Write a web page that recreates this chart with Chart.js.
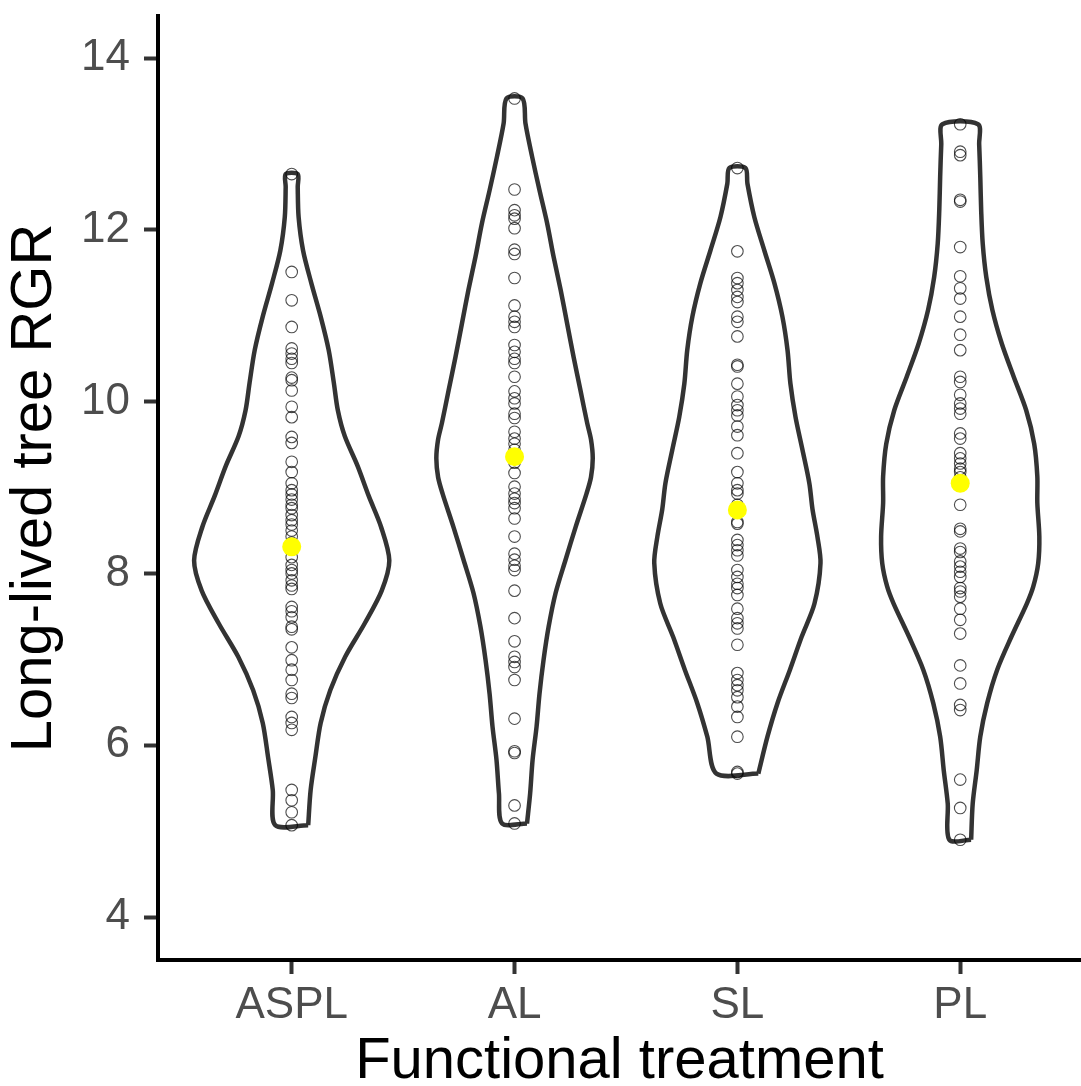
<!DOCTYPE html>
<html>
<head>
<meta charset="utf-8">
<script src="https://cdn.jsdelivr.net/npm/chart.js@4"></script>
<style>
  html, body { margin: 0; padding: 0; background: #fff; }
  canvas { display: block; }
</style>
</head>
<body>
<canvas id="myChart" width="1081" height="1086"></canvas>
<script>
const categories = ["ASPL", "AL", "SL", "PL"];
const yTicks = [4, 6, 8, 10, 12, 14];

// observed RGR values per treatment
const pointsASPL = [12.65, 11.51, 11.18, 10.87, 10.62, 10.56, 10.5, 10.45, 10.28, 10.25, 10.13, 9.94, 9.82, 9.59, 9.52, 9.3, 9.18, 9.05, 8.97, 8.92, 8.86, 8.8, 8.76, 8.68, 8.62, 8.57, 8.5, 8.43, 8.36, 8.28, 8.19, 8.1, 8.04, 8.0, 7.92, 7.86, 7.82, 7.61, 7.56, 7.49, 7.38, 7.35, 7.14, 6.99, 6.88, 6.76, 6.6, 6.55, 6.33, 6.26, 6.18, 5.48, 5.36, 5.22, 5.07];
const pointsAL = [13.53, 12.47, 12.23, 12.17, 12.13, 12.02, 11.77, 11.72, 11.44, 11.12, 10.99, 10.93, 10.87, 10.66, 10.58, 10.5, 10.45, 10.29, 10.12, 10.04, 9.98, 9.86, 9.81, 9.65, 9.57, 9.51, 9.44, 9.29, 9.17, 9.01, 8.93, 8.87, 8.82, 8.76, 8.64, 8.43, 8.23, 8.16, 8.09, 8.04, 7.8, 7.48, 7.21, 7.03, 6.97, 6.91, 6.76, 6.31, 5.93, 5.91, 5.3, 5.09];
const pointsSL = [12.72, 11.75, 11.44, 11.38, 11.3, 11.22, 11.16, 10.99, 10.93, 10.76, 10.43, 10.41, 10.21, 10.06, 9.96, 9.9, 9.84, 9.71, 9.61, 9.4, 9.18, 9.05, 8.97, 8.93, 8.8, 8.6, 8.58, 8.39, 8.33, 8.27, 8.21, 8.04, 7.96, 7.88, 7.83, 7.75, 7.59, 7.48, 7.42, 7.36, 7.17, 6.84, 6.76, 6.7, 6.64, 6.56, 6.45, 6.33, 6.1, 5.69, 5.67];
const pointsPL = [13.23, 12.91, 12.87, 12.35, 12.33, 11.8, 11.46, 11.32, 11.2, 10.99, 10.78, 10.6, 10.29, 10.23, 10.08, 9.98, 9.92, 9.86, 9.63, 9.57, 9.4, 9.34, 9.28, 9.22, 9.18, 9.12, 8.8, 8.52, 8.49, 8.29, 8.25, 8.14, 8.08, 8.02, 7.96, 7.83, 7.79, 7.73, 7.59, 7.46, 7.3, 6.93, 6.72, 6.47, 6.41, 5.6, 5.27, 4.9];

const meanValues = [8.31, 9.36, 8.74, 9.05];

// violin outlines: y levels and half widths (in category units)
const violinYASPL = [5.07, 5.48, 5.86, 6.26, 6.64, 7.03, 7.42, 7.8, 8.15, 8.55, 8.9, 9.25, 9.6, 9.9, 10.22, 10.6, 10.99, 11.38, 11.76, 12.15, 12.5, 12.65];
const violinWASPL = [0.074, 0.085, 0.106, 0.130, 0.173, 0.240, 0.328, 0.404, 0.438, 0.400, 0.346, 0.296, 0.238, 0.207, 0.189, 0.166, 0.130, 0.088, 0.051, 0.031, 0.027, 0.027];
const violinYAL = [5.09, 5.44, 5.83, 6.22, 6.6, 6.99, 7.38, 7.77, 8.16, 8.54, 8.93, 9.12, 9.34, 9.56, 9.75, 10.13, 10.52, 10.91, 11.3, 11.69, 12.08, 12.46, 12.85, 13.24, 13.53];
const violinWAL = [0.056, 0.070, 0.081, 0.099, 0.112, 0.130, 0.153, 0.184, 0.229, 0.274, 0.323, 0.343, 0.351, 0.343, 0.326, 0.296, 0.265, 0.236, 0.207, 0.175, 0.146, 0.112, 0.079, 0.049, 0.036];
const violinYSL = [5.67, 6.1, 6.49, 6.88, 7.26, 7.65, 8.12, 8.43, 8.75, 9.05, 9.44, 9.82, 10.21, 10.6, 10.99, 11.38, 11.76, 12.15, 12.54, 12.72];
const violinWSL = [0.094, 0.135, 0.180, 0.236, 0.288, 0.346, 0.373, 0.359, 0.337, 0.323, 0.292, 0.261, 0.238, 0.225, 0.202, 0.166, 0.121, 0.076, 0.045, 0.036];
const violinYPL = [4.9, 5.32, 5.71, 6.1, 6.49, 6.88, 7.26, 7.65, 7.85, 8.12, 8.43, 8.82, 9.13, 9.51, 9.9, 10.29, 10.68, 11.07, 11.45, 11.84, 12.23, 12.62, 13.0, 13.23];
const violinWPL = [0.049, 0.056, 0.074, 0.090, 0.121, 0.166, 0.229, 0.299, 0.328, 0.350, 0.355, 0.346, 0.346, 0.332, 0.296, 0.240, 0.186, 0.144, 0.117, 0.101, 0.094, 0.090, 0.085, 0.080];

const fontFamily = "'Liberation Sans', Arial, sans-serif";

function violinOutline(center, ys, ws) {
  const right = ys.map((y, i) => ({ x: center + ws[i], y }));
  const left = ys.map((y, i) => ({ x: center - ws[i], y })).reverse();
  return right.concat(left, [right[0]]);
}

const groups = [
  { points: pointsASPL, vy: violinYASPL, vw: violinWASPL },
  { points: pointsAL, vy: violinYAL, vw: violinWAL },
  { points: pointsSL, vy: violinYSL, vw: violinWSL },
  { points: pointsPL, vy: violinYPL, vw: violinWPL },
];

const datasets = [];

datasets.push({
  label: "mean",
  data: meanValues.map((y, i) => ({ x: i, y })),
  pointRadius: 9.5,
  pointBackgroundColor: "#FFFF00",
  pointBorderWidth: 0,
  order: 0,
});

groups.forEach((g, i) => {
  datasets.push({
    label: categories[i] + " points",
    data: g.points.map((y) => ({ x: i, y })),
    pointRadius: 5.8,
    pointBorderWidth: 1.1,
    pointBorderColor: "rgba(0, 0, 0, 0.7)",
    pointBackgroundColor: "rgba(0, 0, 0, 0)",
    order: 1,
  });
  datasets.push({
    label: categories[i] + " violin",
    data: violinOutline(i, g.vy, g.vw),
    showLine: true,
    fill: false,
    borderColor: "#333333",
    borderWidth: 4.5,
    pointRadius: 0,
    tension: 0.3,
    order: 2,
  });
});

const config = {
  type: "scatter",
  data: { datasets },
  options: {
    responsive: false,
    devicePixelRatio: 1,
    animation: false,
    layout: { autoPadding: false, padding: { top: 16, right: 0, bottom: 0, left: 0 } },
    plugins: {
      legend: { display: false },
      tooltip: { enabled: false },
    },
    scales: {
      x: {
        type: "linear",
        min: -0.6,
        max: 3.542,
        afterBuildTicks: (scale) => {
          scale.ticks = categories.map((_, i) => ({ value: i }));
        },
        afterFit: (scale) => {
          scale.height = 126;
          scale.paddingLeft = 0;
          scale.paddingRight = 0;
          if (scale._margins) {
            scale._margins.left = 0;
            scale._margins.right = 0;
          }
        },
        ticks: {
          autoSkip: false,
          maxRotation: 0,
          padding: 5,
          color: "#4D4D4D",
          font: { family: fontFamily, size: 44, lineHeight: 1.2 },
          callback: (value) => categories[value],
        },
        grid: {
          drawOnChartArea: false,
          drawTicks: true,
          tickLength: 14,
          tickWidth: 4,
          tickColor: "#333333",
        },
        border: { display: true, color: "#000000", width: 4 },
        title: {
          display: true,
          text: "Functional treatment",
          color: "#000000",
          padding: 0,
          font: { family: fontFamily, size: 58, lineHeight: 0.83 },
        },
      },
      y: {
        min: 3.5,
        max: 14.49,
        afterBuildTicks: (scale) => {
          scale.ticks = yTicks.map((v) => ({ value: v }));
        },
        afterFit: (scale) => {
          scale.width = 158;
          scale.paddingTop = 0;
          scale.paddingBottom = 0;
        },
        ticks: {
          padding: 14,
          color: "#4D4D4D",
          font: { family: fontFamily, size: 44, lineHeight: 1.2 },
        },
        grid: {
          drawOnChartArea: false,
          drawTicks: true,
          tickLength: 14,
          tickWidth: 4,
          tickColor: "#333333",
        },
        border: { display: true, color: "#000000", width: 4 },
        title: {
          display: true,
          text: "Long-lived tree RGR",
          color: "#000000",
          padding: { top: 6, bottom: 0 },
          font: { family: fontFamily, size: 58, lineHeight: 1 },
        },
      },
    },
  },
};

var myChart = new Chart(document.getElementById("myChart"), config);
</script>
</body>
</html>
